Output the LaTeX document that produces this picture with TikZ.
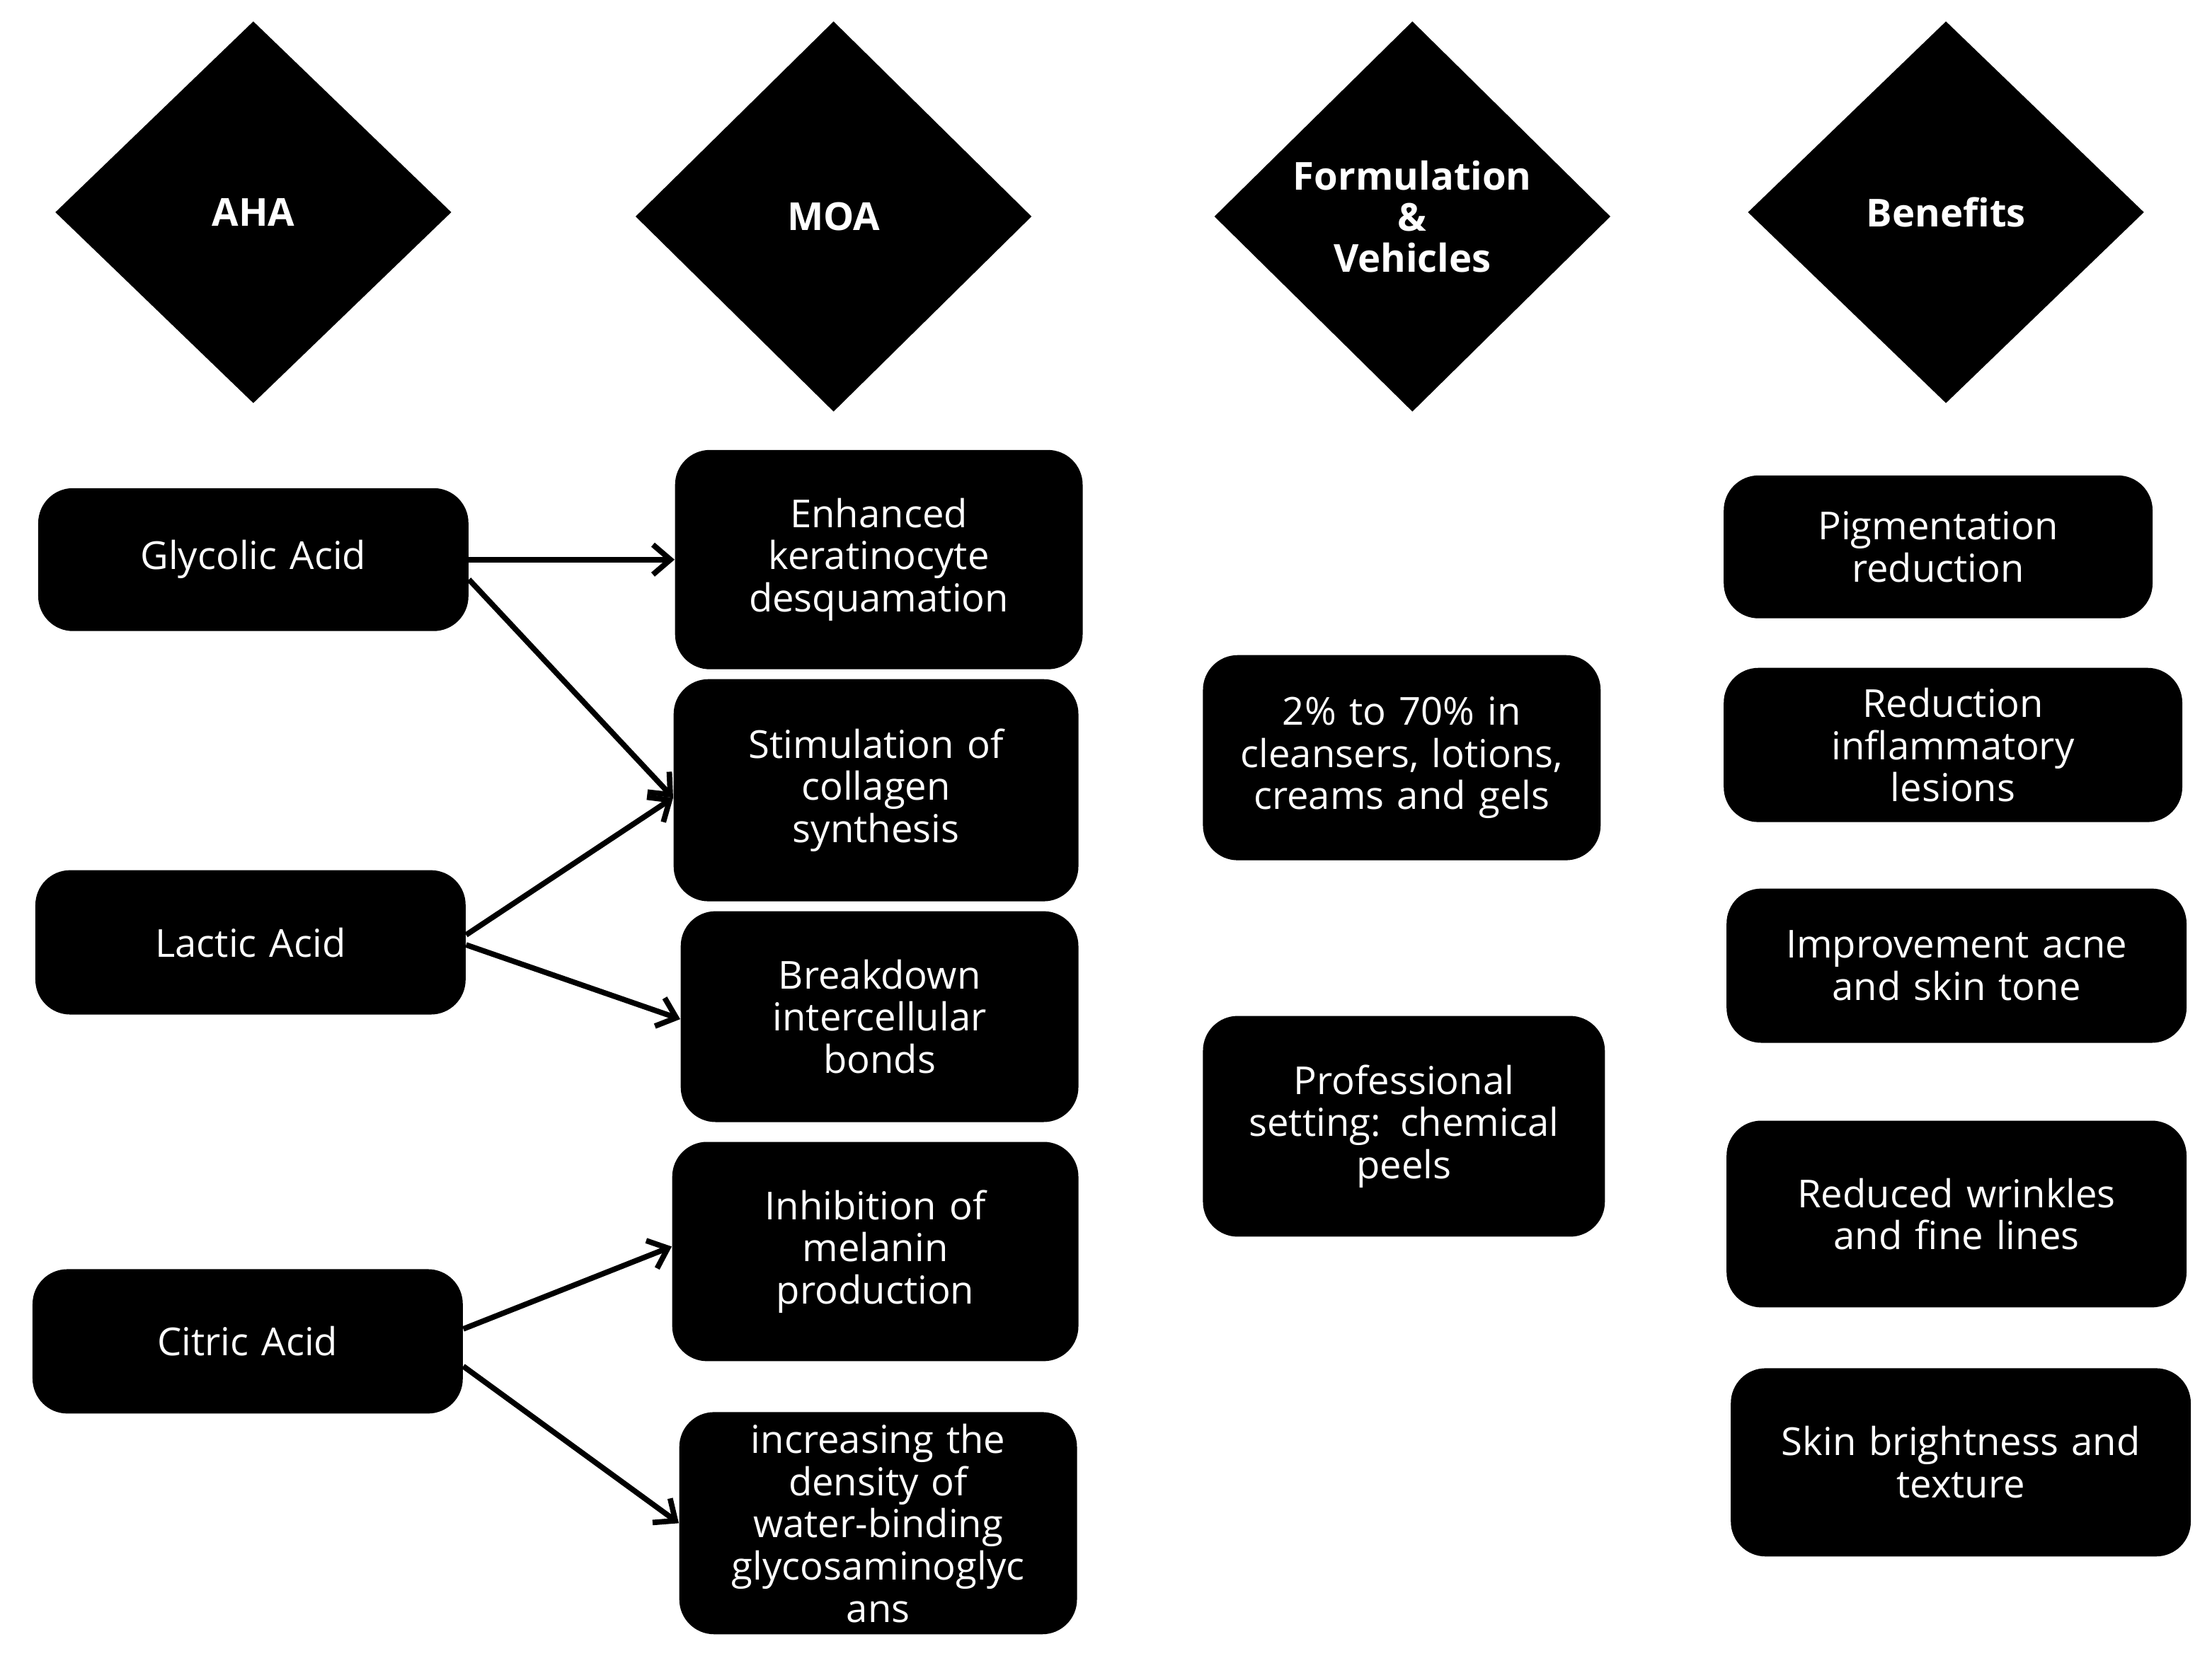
\documentclass[tikz,border=0pt]{standalone}
\usepackage{fontspec}
\setmainfont{Open Sans}
\usetikzlibrary{shapes.geometric,arrows.meta}
\tikzset{
 box/.style={fill=black,rounded corners=14pt,text=white,align=center,inner sep=0pt,font=\fontsize{15.5}{17}\selectfont},
 dia/.style={fill=black,diamond,inner sep=0pt,text=white,align=center,font=\bfseries\fontsize{15.5}{16.5}\selectfont},
 arr/.style={line width=2.2pt,-{Straight Barb[length=7pt,width=12pt]}}
}
\newcommand{\bx}[6]{\node[box,minimum width={(#4-#2)*0.02cm},minimum height={(#5-#3)*0.02cm},text width={(#4-#2)*0.02cm-10pt}] (#1) at ({(#2+#4)/2},{(#3+#5)/2}) {#6};}
\begin{document}
\begin{tikzpicture}[x=0.02cm,y=-0.02cm]
\useasboundingbox (0,0) rectangle (1563,1170);
\node[dia,minimum width=280*0.02cm,minimum height=270*0.02cm] (h1) at (179,150) {AHA};
\node[dia,minimum width=280*0.02cm,minimum height=276*0.02cm] (h2) at (589,153) {MOA};
\node[dia,minimum width=280*0.02cm,minimum height=276*0.02cm] (h3) at (998,153) {Formulation\\\&\\Vehicles};
\node[dia,minimum width=280*0.02cm,minimum height=270*0.02cm] (h4) at (1375,150) {Benefits};
\bx{glyc}{27}{345}{331}{446}{Glycolic Acid}
\bx{lact}{25}{615}{329}{717}{Lactic Acid}
\bx{citr}{23}{897}{327}{999}{Citric Acid}
\bx{m1}{477}{318}{765}{473}{Enhanced\\keratinocyte\\desquamation}
\bx{m2}{476}{480}{762}{637}{Stimulation of\\collagen\\synthesis}
\bx{m3}{481}{644}{762}{793}{Breakdown\\intercellular\\bonds}
\bx{m4}{475}{807}{762}{962}{Inhibition of\\melanin\\production}
\bx{m5}{480}{998}{761}{1155}{increasing the\\density of\\water-binding\\glycosaminoglyc\\ans}
\bx{f1}{850}{463}{1131}{608}{2\% to 70\% in\\cleansers, lotions,\\creams and gels}
\bx{f2}{850}{718}{1134}{874}{Professional\\setting: chemical\\peels}
\bx{b1}{1218}{336}{1521}{437}{Pigmentation\\reduction}
\bx{b2}{1218}{472}{1542}{581}{Reduction\\inflammatory\\lesions}
\bx{b3}{1220}{628}{1545}{737}{Improvement acne\\and skin tone}
\bx{b4}{1220}{792}{1545}{924}{Reduced wrinkles\\and fine lines}
\bx{b5}{1223}{967}{1548}{1100}{Skin brightness and\\texture}
\draw[arr] (glyc.east) -- (m1.west);
\draw[arr] ([yshift=-8pt]glyc.east) -- ([yshift=-3pt]m2.west);
\draw[arr] ([yshift=3pt]lact.east) -- ([yshift=-3pt]m2.west);
\draw[arr] ([yshift=-1pt]lact.east) -- ([yshift=-1pt]m3.west);
\draw[arr] ([yshift=5pt]citr.east) -- ([yshift=2pt]m4.west);
\draw[arr] ([yshift=-10pt]citr.east) -- (m5.west);
\end{tikzpicture}
\end{document}
